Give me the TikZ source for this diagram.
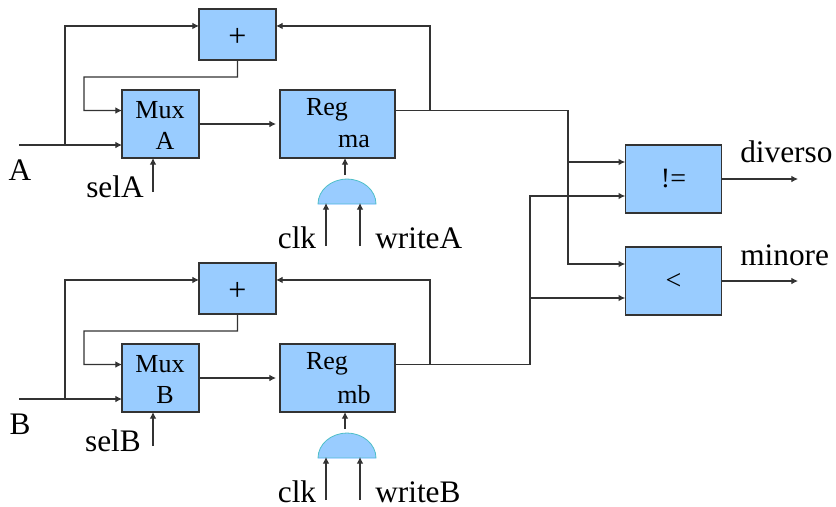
\documentclass[tikz,border=0pt]{standalone}
\usepackage{fontspec}
\setmainfont{Liberation Serif}
\usetikzlibrary{
	arrows.meta,shapes.geometric,positioning,calc
}
\definecolor{boxblue}{HTML}{99CCFF}
\definecolor{wiregray}{HTML}{333333}
\definecolor{gateline}{HTML}{4FBFC8}
\tikzset{
	x=0.75pt, y=-0.75pt,
	>={Latex[length=5pt,width=5pt]},
	%
	block/.style={
		rectangle, outer sep=0pt, inner sep=0pt, line width=0.9pt,
		draw=wiregray, fill=boxblue, font=\fontsize{21}{24}\selectfont
	},
	%
	adder/.style={
		block, minimum width=57.75pt, minimum height=38.25pt
	},
	%
	mux/.style={
		block, minimum width=57.75pt, minimum height=51pt
	},
	%
	register/.style={
		block, minimum width=86.25pt, minimum height=51pt
	},
	%
	compare/.style={
		block, minimum width=72.5pt, minimum height=51pt
	},
	%
	gate/.style={
		semicircle, outer sep=0pt, inner sep=0pt, minimum width=43.5pt, minimum height=21pt,
		yscale=0.86, line width=0.6pt, draw=gateline, fill=boxblue
	},
	%
	wire/.style={
		line width=0.8pt, draw=wiregray
	},
	%
	boxtext/.style={
		inner sep=0pt, font=\fontsize{19.5}{22}\selectfont
	},
	%
	pinlabel/.style={
		inner sep=0pt, font=\fontsize{23.5}{26}\selectfont
	}
}
\begin{document}
\begin{tikzpicture}
    \useasboundingbox (0,0) rectangle (836,507);
    \node(MuxA)[mux] at (160.5,124){};
    \node(RegA)[register, right=60.75pt of MuxA]{};
    \node(PlusA)[adder, above right=22.5pt and 0pt of MuxA.north east]{};
    \node(GateA)[gate, anchor=chord center] at (347,204){};
    \node(MuxB)[mux, below=139.5pt of MuxA]{};
    \node(RegB)[register, right=60.75pt of MuxB]{};
    \node(PlusB)[adder, above right=22.5pt and 0pt of MuxB.north east]{};
    \node(GateB)[gate, anchor=chord center] at (347,458){};
    \node(Diff)[compare] at (673.5,179){!=};
    \node(Less)[compare, below=25.5pt of Diff]{<};
    \node(PlusAtext)[inner sep=0pt, font=\fontsize{24}{24}\selectfont] at ($(PlusA)+(0,3)$){+};
    \node(PlusBtext)[inner sep=0pt, font=\fontsize{24}{24}\selectfont] at ($(PlusB)+(0,3)$){+};
    \node(MuxAname)[boxtext] at (160,110){Mux};
    \node(MuxAport)[boxtext] at (165,141){A};
    \node(MuxBname)[boxtext] at (160,364){Mux};
    \node(MuxBport)[boxtext] at (165,395){B};
    \node(RegAname)[boxtext] at (327,110){Reg};
    \node(RegAport)[boxtext] at (354,141){ma};
    \node(RegBname)[boxtext] at (327,364){Reg};
    \node(RegBport)[boxtext] at (354,395){mb};
    \draw[line width=0.6pt, draw=boxblue!70!white] (GateA.arc start) -- (GateA.arc end);
    \draw[line width=0.6pt, draw=boxblue!70!white] (GateB.arc start) -- (GateB.arc end);
    \node(Alabel)[pinlabel] at (20,170){A};
    \node(selAlabel)[pinlabel] at (115,187){selA};
    \node(clkAlabel)[pinlabel] at (297,238){clk};
    \node(writeAlabel)[pinlabel, anchor=west] at (375,238){writeA};
    \node(Blabel)[pinlabel] at (20,424){B};
    \node(selBlabel)[pinlabel] at (113,441){selB};
    \node(clkBlabel)[pinlabel] at (297,492){clk};
    \node(writeBlabel)[pinlabel, anchor=west] at (375,492){writeB};
    \node(diversolabel)[pinlabel, anchor=west] at (740,152){diverso};
    \node(minorelabel)[pinlabel, anchor=west] at (740,255){minore};
    \coordinate(Ain) at (19,145);
    \coordinate(Bin) at (19,399);
    \coordinate(selAin) at (153,192);
    \coordinate(selBin) at (153,446);
    \coordinate(clkAin) at (326,246);
    \coordinate(writeAin) at (360,246);
    \coordinate(clkBin) at (326,500);
    \coordinate(writeBin) at (360,500);
    \coordinate(diversoout) at (798,179);
    \coordinate(minoreout) at (798,281);
    \coordinate(RegAjoin) at (430,110.5);
    \coordinate(RegBjoin) at (430,364.5);
    \coordinate(GateAtop) at ([xshift=-1.5pt,yshift=3pt]GateA.apex);
    \coordinate(GateBtop) at ([xshift=-1.5pt,yshift=3pt]GateB.apex);
    \draw[->, wire] (Ain) -- ([yshift=-15.75pt]MuxA.west);
    \draw[->, wire] (65,145) |- ([yshift=6.4pt]PlusA.west);
    \draw[->, wire] (PlusA.south) -- +(0,17) -| (84,110.5) -- ([yshift=10.1pt]MuxA.west);
    \draw[->, wire] (MuxA.east) -- ([xshift=-3pt]RegA.west);
    \draw[->, wire] (RegAjoin) |- ([yshift=6.4pt]PlusA.east);
    \draw[wire] (RegA.east|-RegAjoin) -- (RegAjoin);
    \draw[->, wire] (RegAjoin) -- (568,110.5) |- ([yshift=12.75pt]Less.west);
    \draw[->, wire] (568,162) -- ([yshift=12.75pt]Diff.west);
    \draw[->, wire] (selAin) -- (MuxA.south-|selAin);
    \draw[->, wire] (GateAtop) -- (RegA.south-|GateAtop);
    \draw[->, wire] (clkAin) -- (326,203);
    \draw[->, wire] (writeAin) -- (360,203);
    \draw[->, wire] (Bin) -- ([yshift=-15.75pt]MuxB.west);
    \draw[->, wire] (65,399) |- ([yshift=6.4pt]PlusB.west);
    \draw[->, wire] (PlusB.south) -- +(0,17) -| (84,364.5) -- ([yshift=10.1pt]MuxB.west);
    \draw[->, wire] (MuxB.east) -- ([xshift=-3pt]RegB.west);
    \draw[->, wire] (RegBjoin) |- ([yshift=6.4pt]PlusB.east);
    \draw[wire] (RegB.east|-RegBjoin) -- (RegBjoin);
    \draw[->, wire] (RegBjoin) -- (530,364.5) |- ([yshift=-12.75pt]Diff.west);
    \draw[->, wire] (530,298) -- ([yshift=-12.75pt]Less.west);
    \draw[->, wire] (selBin) -- (MuxB.south-|selBin);
    \draw[->, wire] (GateBtop) -- (RegB.south-|GateBtop);
    \draw[->, wire] (clkBin) -- (326,457);
    \draw[->, wire] (writeBin) -- (360,457);
    \draw[->, wire] (Diff.east) -- (diversoout);
    \draw[->, wire] (Less.east) -- (minoreout);
\end{tikzpicture}
\end{document}
